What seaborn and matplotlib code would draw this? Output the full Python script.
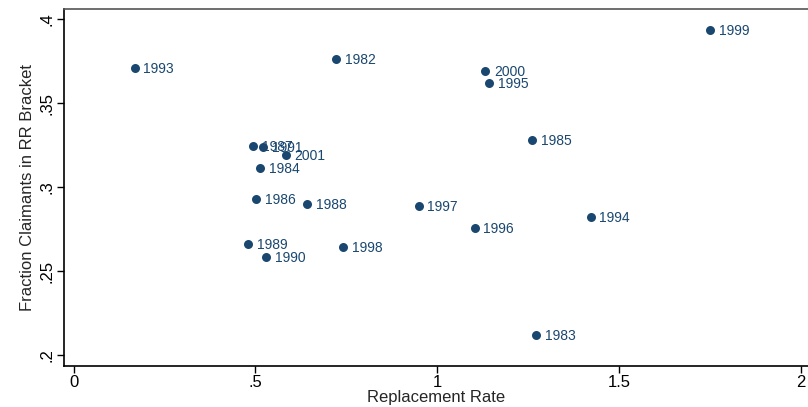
import matplotlib
matplotlib.use("Agg")
import matplotlib.pyplot as plt
import seaborn as sns
import pandas as pd

# values
years = [1982, 1983, 1984, 1985, 1986, 1987, 1988, 1989, 1990, 1991,
         1993, 1994, 1995, 1996, 1997, 1998, 1999, 2000, 2001]
repl_rate = [0.723, 1.273, 0.514, 1.262, 0.503, 0.494, 0.642, 0.481, 0.529, 0.521,
             0.168, 1.422, 1.142, 1.103, 0.949, 0.742, 1.751, 1.132, 0.584]
frac_claim = [0.3762, 0.2118, 0.3112, 0.3280, 0.2927, 0.3244, 0.2900, 0.2663, 0.2586, 0.3238,
              0.3707, 0.2820, 0.3621, 0.2758, 0.2889, 0.2644, 0.3935, 0.3689, 0.3190]
x_ticks = [0, 0.5, 1, 1.5, 2]
x_tick_labels = ["0", ".5", "1", "1.5", "2"]
y_ticks = [0.2, 0.25, 0.3, 0.35, 0.4]
y_tick_labels = [".2", ".25", ".3", ".35", ".4"]

df = pd.DataFrame({"year": years, "rr": repl_rate, "frac": frac_claim})

sns.set_style("white")
plt.rcParams["font.family"] = ["Liberation Sans", "DejaVu Sans"]
navy = "#1a476f"

fig = plt.figure(figsize=(8.08, 4.07), dpi=100)
ax = fig.add_axes([0.0786, 0.1015, 0.9214, 0.8755])

sns.scatterplot(data=df, x="rr", y="frac", color=navy, s=42, edgecolor=navy,
                linewidth=0, ax=ax, zorder=3)
for _, r in df.iterrows():
    ax.annotate(str(int(r["year"])), (r["rr"], r["frac"]), xytext=(6.3, -0.7),
                textcoords="offset points", va="center", ha="left",
                fontsize=10, color=navy)

ax.set_xlim(-0.0275, 2.02)
ax.set_ylim(0.1938, 0.4058)
ax.set_xticks(x_ticks)
ax.set_xticklabels(x_tick_labels)
ax.set_yticks(y_ticks)
ax.set_yticklabels(y_tick_labels, rotation=90, va="center")
ax.tick_params(axis="both", direction="out", length=5, width=1, color="black",
               labelsize=12, labelcolor="black", bottom=True, left=True, pad=1.5)
ax.set_xlabel("Replacement Rate", fontsize=12, labelpad=0)
ax.set_ylabel("Fraction Claimants in RR Bracket", fontsize=12, labelpad=3)
for side in ["left", "bottom"]:
    ax.spines[side].set_color("black")
    ax.spines[side].set_linewidth(1.2)
ax.spines["top"].set_color("#555555")
ax.spines["top"].set_linewidth(1.2)
ax.spines["right"].set_visible(False)

fig.savefig("out.png", dpi=100)
